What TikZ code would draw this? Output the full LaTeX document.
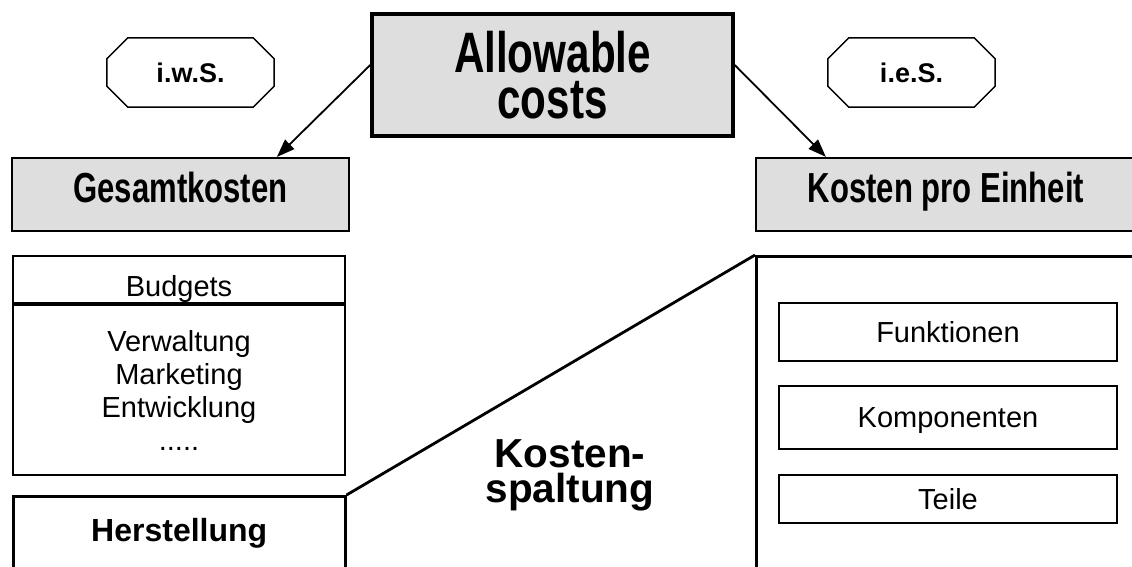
\documentclass[tikz,border=0pt]{standalone}
\usepackage{fontspec}
\setmainfont{Liberation Sans}
\newfontfamily\tallfont{Liberation Sans}[FakeStretch=0.74]
\usetikzlibrary{positioning,arrows.meta,calc}

\begin{document}
\begin{tikzpicture}[x=1pt, y=-1pt,
    head/.style = {draw, fill=black!13, line width=2.2pt, font=\tallfont\bfseries\fontsize{42}{50}\selectfont, text height=30pt, text depth=15pt},
    tag/.style = {minimum width=167pt, minimum height=69pt, font=\bfseries\fontsize{27}{32}\selectfont},
    box/.style = {draw, line width=2pt, font=\fontsize{29}{33}\selectfont},
    entry/.style = {box, text height=20pt, text depth=0pt},
    link/.style = {line width=1.8pt, -{Triangle[length=18pt,width=13pt]}}]
  \useasboundingbox (0,0) rectangle (1132,566);
  \clip (0,0) rectangle (1132,566);

  % top row
  \node[draw, fill=black!13, line width=3.5pt, minimum width=361pt, minimum height=122pt, align=center,
        font=\tallfont\bfseries\fontsize{57}{46}\selectfont] (allow) at (552.5,75) {Allowable\\costs};
  \node[tag] (iws) at (190.5,72.5) {i.w.S.};
  \node[tag] (ies) at (911.5,72.5) {i.e.S.};
  \foreach \t in {iws,ies}
    \draw[line width=1.5pt] ($(\t.north west)+(21,0)$) -- ($(\t.north east)+(-21,0)$) -- ($(\t.north east)+(0,21)$)
      -- ($(\t.south east)+(0,-21)$) -- ($(\t.south east)+(-21,0)$) -- ($(\t.south west)+(21,0)$)
      -- ($(\t.south west)+(0,-21)$) -- ($(\t.north west)+(0,21)$) -- cycle;

  \node[head, minimum width=337pt, minimum height=73pt] (gesamt) at (180.5,194.5) {Gesamtkosten};
  \node[head, minimum width=380pt, minimum height=73pt] (einheit) at (946,194.5) {Kosten pro Einheit};
  \draw[link] ([yshift=10pt]allow.west) -- ($(gesamt.north west)+(266,0)$);
  \draw[link] ([yshift=10pt]allow.east) -- ($(einheit.north west)+(71,0)$);

  % left side
  \node[entry, text height=33pt, minimum width=332pt, minimum height=47pt, anchor=north west] (bhead) at (12,255) {Budgets};
  \node[box, minimum width=332pt, minimum height=170pt, align=center, below=0pt of bhead] (blist)
       {Verwaltung\\Marketing\\Entwicklung\\.....};
  \node[box, line width=2.5pt, minimum width=332pt, minimum height=75pt, anchor=north west,
        font=\bfseries\fontsize{32}{38}\selectfont] (herst) at (12,495) {Herstellung};

  % right side
  \node[draw, line width=2.8pt, minimum width=400pt, minimum height=330pt, anchor=north west] (detail) at (755,255) {};
  \node[entry, minimum width=338pt, minimum height=58pt] (funk) at (948,332) {Funktionen};
  \node[entry, minimum width=338pt, minimum height=63pt, below=23pt of funk] (komp) {Komponenten};
  \node[entry, minimum width=338pt, minimum height=48pt, below=24pt of komp] (teile) {Teile};
  \draw[line width=2.8pt] (herst.north east) -- (detail.north west);

  \node[align=center, font=\bfseries\fontsize{40.5}{35}\selectfont] (spalt) at (570,475) {Kosten-\\spaltung};
\end{tikzpicture}
\end{document}
